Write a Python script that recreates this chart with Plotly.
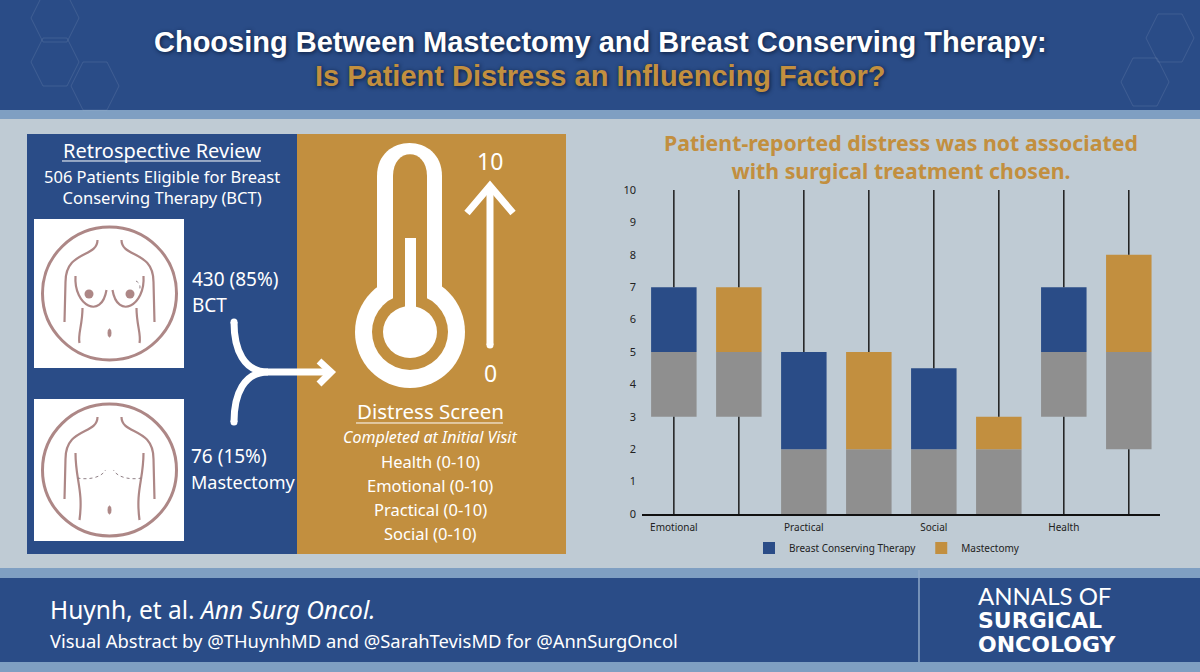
"""
Visual abstract: distress scores by domain and surgical treatment chosen.
"""

import plotly.graph_objects as go

# Box plot values (one value per box, BCT / mastectomy alternating)
categories = ["Emotional", "Practical", "Social", "Health"]
box_treatment = ["BCT", "Mastectomy"] * 4
lower = [0, 0, 0, 0, 0, 0, 0, 0]
q1 = [3, 3, 0, 0, 0, 0, 3, 2]
median = [5, 5, 2, 2, 2, 2, 5, 5]
q3 = [7, 7, 5, 5, 4.5, 3, 7, 8]
upper = [10, 10, 10, 10, 10, 10, 10, 10]
y_ticks = list(range(0, 11))

# Options
WIDTH = 1200
HEIGHT = 672
BLUE = "#2a4c87"
GOLD = "#c28f3f"
GREY = "#8f8f8f"
BG = "#bfcbd4"
BAND = "#7f9fc2"
ROSE = "#ad8786"
BODY_FONT = "Noto Sans"
TITLE_FONT = "Liberation Sans"
LOGO_FONT = "DejaVu Sans"


def px_x(x):
    return x / WIDTH


def px_y(y):
    return 1 - y / HEIGHT


def to_path(commands):
    """Turn a path written in page pixels into paper coordinates."""
    out = []
    is_x = True
    for token in commands.split():
        if token.isalpha():
            out.append(token)
            is_x = True
        else:
            out.append(f"{px_x(float(token)) if is_x else px_y(float(token)):.5f}")
            is_x = not is_x
    return " ".join(out)


shapes = []


def rect(x0, y0, x1, y1, color):
    shapes.append(dict(type="rect", xref="paper", yref="paper", layer="below",
                       x0=px_x(x0), x1=px_x(x1), y0=px_y(y0), y1=px_y(y1),
                       fillcolor=color, line_width=0))


def oval(cx, cy, rx, ry, fill="rgba(0,0,0,0)", line=None, width=0):
    shapes.append(dict(type="circle", xref="paper", yref="paper", layer="below",
                       x0=px_x(cx - rx), x1=px_x(cx + rx), y0=px_y(cy - ry), y1=px_y(cy + ry),
                       fillcolor=fill, line=dict(color=line, width=width)))


def stroke(commands, color, width, dash=None):
    shapes.append(dict(type="path", xref="paper", yref="paper", layer="below",
                       path=to_path(commands),
                       line=dict(color=color, width=width, dash=dash)))


def fill(commands, color):
    shapes.append(dict(type="path", xref="paper", yref="paper", layer="below",
                       path=to_path(commands), fillcolor=color, line_width=0))


def hexagon(cx, cy, r, color):
    stroke(f"M {cx - r} {cy} L {cx - r / 2} {cy - r} L {cx + r / 2} {cy - r} "
           f"L {cx + r} {cy} L {cx + r / 2} {cy + r} L {cx - r / 2} {cy + r} Z", color, 1)


# Page background
rect(0, 0, WIDTH, HEIGHT, BG)
rect(0, 0, WIDTH, 110, BLUE)
rect(0, 110, WIDTH, 119, BAND)
rect(0, 568, WIDTH, 578, BAND)
rect(0, 578, WIDTH, 662, BLUE)
rect(0, 662, WIDTH, HEIGHT, BAND)
stroke("M 919 570 L 919 662", "#8fa9c8", 1.5)
for cx, cy, r in [(55, 18, 24), (55, 62, 24), (95, 86, 24), (1170, 38, 24), (1145, 82, 24)]:
    hexagon(cx, cy, r, "rgba(255,255,255,0.10)")

# Left panels
rect(27, 134, 297, 554, BLUE)
rect(297, 134, 566, 554, GOLD)
rect(34, 219, 184, 368, "white")
rect(34, 399, 184, 541, "white")
oval(109.5, 293.5, 67, 66.5, line=ROSE, width=3)
oval(109.5, 470, 67, 66, line=ROSE, width=3)

# Figures in the two circles
for dy in [0, 177]:
    for side in [-1, 1]:
        cx = 109.5
        stroke(f"M {cx + side * 12} {240 + dy} C {cx + side * 12} {258 + dy} {cx + side * 44} {250 + dy} "
               f"{cx + side * 44} {282 + dy} L {cx + side * 45} {322 + dy}", ROSE, 2.2)
    oval(109.5, 333 + dy, 1.5, 4, fill=ROSE, line=ROSE, width=1)

for side in [-1, 1]:
    cx = 109.5
    # breasts and torso, top figure
    stroke(f"M {cx + side * 34} {276} C {cx + side * 36} {306} {cx + side * 8} {320} {cx + side * 3} {290}", ROSE, 2.2)
    stroke(f"M {cx + side * 27} {308} C {cx + side * 27} {325} {cx + side * 32} {335} {cx + side * 30} {343}", ROSE, 2.2)
    oval(cx + side * 20.5, 294, 4.5, 4.5, fill=ROSE, line=ROSE, width=0)
    # torso and scar, bottom figure
    stroke(f"M {cx + side * 34} {453} C {cx + side * 34} {480} {cx + side * 26} {490} {cx + side * 30} {520}", ROSE, 2.2)
    stroke(f"M {cx + side * 32} {478} C {cx + side * 22} {480} {cx + side * 8} {478} {cx + side * 4} {470}",
           "#8f7f85", 1, dash="dot")
# lumpectomy scar on the top figure
stroke("M 136 281 C 140 283 141 287 139 291", "#8f7f85", 1, dash="dot")

# Y-shaped arrow
stroke("M 234 322 C 234 350 244 372 268 372 L 331 372", "white", 7)
stroke("M 234 422 C 234 394 244 372 268 372", "white", 7)
stroke("M 319 361 L 331 372 L 319 384", "white", 7)
oval(234, 322, 3.5, 3.5, fill="white")
oval(234, 422, 3.5, 3.5, fill="white")

# Thermometer
thermo = "M {l} {b} L {l} {t} C {l} {c} {r} {c} {r} {t} L {r} {b} Z"
fill(thermo.format(l=377, r=442, t=176, c=132, b=320), "white")
oval(410, 332, 55, 56, fill="white")
fill(thermo.format(l=393, r=427, t=176, c=147, b=320), GOLD)
oval(410, 332, 38, 38, fill=GOLD)
rect(405, 238, 416, 320, "white")
oval(410, 332, 27, 26, fill="white")

# Scale arrow
stroke("M 490 345 L 490 186", "white", 7)
stroke("M 467 213 L 490 186 L 513 213", "white", 7)
oval(490, 345, 3.5, 3.5, fill="white")

# Underlines
stroke("M 62 161 L 261 161", "white", 1)
stroke("M 356 423 L 503 423", "white", 1)

# Texts: text, x, y, size, colour, alignment, font
labels = [
    ("Retrospective Review", 162, 150, 20, "white", "center", BODY_FONT),
    ("506 Patients Eligible for Breast<br>Conserving Therapy (BCT)", 162, 187, 16.5, "white", "center", BODY_FONT),
    ("430 (85%)", 190, 279, 19, "white", "left", BODY_FONT),
    ("BCT", 190, 305, 19, "white", "left", BODY_FONT),
    ("76 (15%)", 189, 456, 19, "white", "left", BODY_FONT),
    ("Mastectomy", 189, 482, 18, "white", "left", BODY_FONT),
    ("10", 490, 161, 23, "white", "center", BODY_FONT),
    ("0", 490, 373, 23, "white", "center", BODY_FONT),
    ("Distress Screen", 430, 411, 20.5, "white", "center", BODY_FONT),
    ("<i>Completed at Initial Visit</i>", 430, 437, 16, "white", "center", BODY_FONT),
    ("Health (0-10)", 430, 461, 16.5, "white", "center", BODY_FONT),
    ("Emotional (0-10)", 430, 485, 16.5, "white", "center", BODY_FONT),
    ("Practical (0-10)", 430, 509, 16.5, "white", "center", BODY_FONT),
    ("Social (0-10)", 430, 533, 16.5, "white", "center", BODY_FONT),
    ("<b>Patient-reported distress was not associated<br>with surgical treatment chosen.</b>",
     901, 156, 21.3, GOLD, "center", BODY_FONT),
    ("Huynh, et al. <i>Ann Surg Oncol.</i>", 48, 609, 24.5, "white", "left", BODY_FONT),
    ("Visual Abstract by @THuynhMD and @SarahTevisMD for @AnnSurgOncol", 48, 640, 18.4, "white", "left", BODY_FONT),
    ("ANNALS OF", 976, 595, 24, "white", "left", "Lato"),
    ("<b>SURGICAL</b>", 976, 620, 22, "white", "left", LOGO_FONT),
    ("<b>ONCOLOGY</b>", 976, 644, 22, "white", "left", LOGO_FONT),
]
annotations = [
    dict(text=text, x=px_x(x), y=px_y(y), xref="paper", yref="paper", xanchor=align, yanchor="middle",
         showarrow=False, font=dict(size=size, color=color, family=family))
    for text, x, y, size, color, align, family in labels
]
shadow = "1px 1px 4px #0b1c3a"
annotations += [
    dict(text="<b>Choosing Between Mastectomy and Breast Conserving Therapy:</b>", x=px_x(600), y=px_y(42),
         xref="paper", yref="paper", yanchor="middle", showarrow=False,
         font=dict(size=29, color="white", family=TITLE_FONT, shadow=shadow)),
    dict(text="<b>Is Patient Distress an Influencing Factor?</b>", x=px_x(600), y=px_y(76),
         xref="paper", yref="paper", yanchor="middle", showarrow=False,
         font=dict(size=29, color=GOLD, family=TITLE_FONT, shadow=shadow)),
]

# Chart
positions = list(range(len(q1)))
bct = [i for i in positions if box_treatment[i] == "BCT"]
mast = [i for i in positions if box_treatment[i] == "Mastectomy"]

fig = go.Figure()

# Whiskers first so that the boxes sit on top of their ends
for i in positions:
    fig.add_trace(go.Scatter(x=[i, i, None, i, i], y=[lower[i], q1[i], None, q3[i], upper[i]],
                             mode="lines", line=dict(color="#1c1c1c", width=1.5),
                             showlegend=False, hoverinfo="skip"))

fig.add_trace(go.Bar(x=positions, y=[m - q for m, q in zip(median, q1)], base=q1, width=0.7,
                     marker=dict(color=GREY, line_width=0), showlegend=False))
fig.add_trace(go.Bar(x=bct, y=[q3[i] - median[i] for i in bct], base=[median[i] for i in bct], width=0.7,
                     name="Breast Conserving Therapy", marker=dict(color=BLUE, line_width=0)))
fig.add_trace(go.Bar(x=mast, y=[q3[i] - median[i] for i in mast], base=[median[i] for i in mast], width=0.7,
                     name="Mastectomy", marker=dict(color=GOLD, line_width=0)))

fig.update_layout(
    width=WIDTH,
    height=HEIGHT,
    margin=dict(l=0, r=0, t=0, b=0, autoexpand=False),
    paper_bgcolor=BG,
    plot_bgcolor="rgba(0,0,0,0)",
    barmode="overlay",
    font=dict(family=BODY_FONT, color="#222222", size=10),
    shapes=shapes,
    annotations=annotations,
    legend=dict(orientation="h", x=px_x(887), xanchor="center", y=px_y(548), yanchor="middle",
                bgcolor="rgba(0,0,0,0)", font=dict(size=10), itemwidth=30),
)
fig.update_xaxes(domain=[px_x(642), px_x(1160)], range=[-0.49, 7.48], tickvals=[0, 2, 4, 6], ticktext=categories,
                 showgrid=False, zeroline=False, showline=True, linecolor="#111111", linewidth=1.5, ticks="",
                 ticklabelstandoff=3)
fig.update_yaxes(domain=[px_y(514), px_y(190)], range=[0, 10], tickvals=y_ticks, tickfont_size=11,
                 showgrid=False, zeroline=False, showline=False, ticks="", ticklabelstandoff=5)

fig.write_html("out.html", config={"displayModeBar": False}, post_script="document.body.style.margin='0';")
